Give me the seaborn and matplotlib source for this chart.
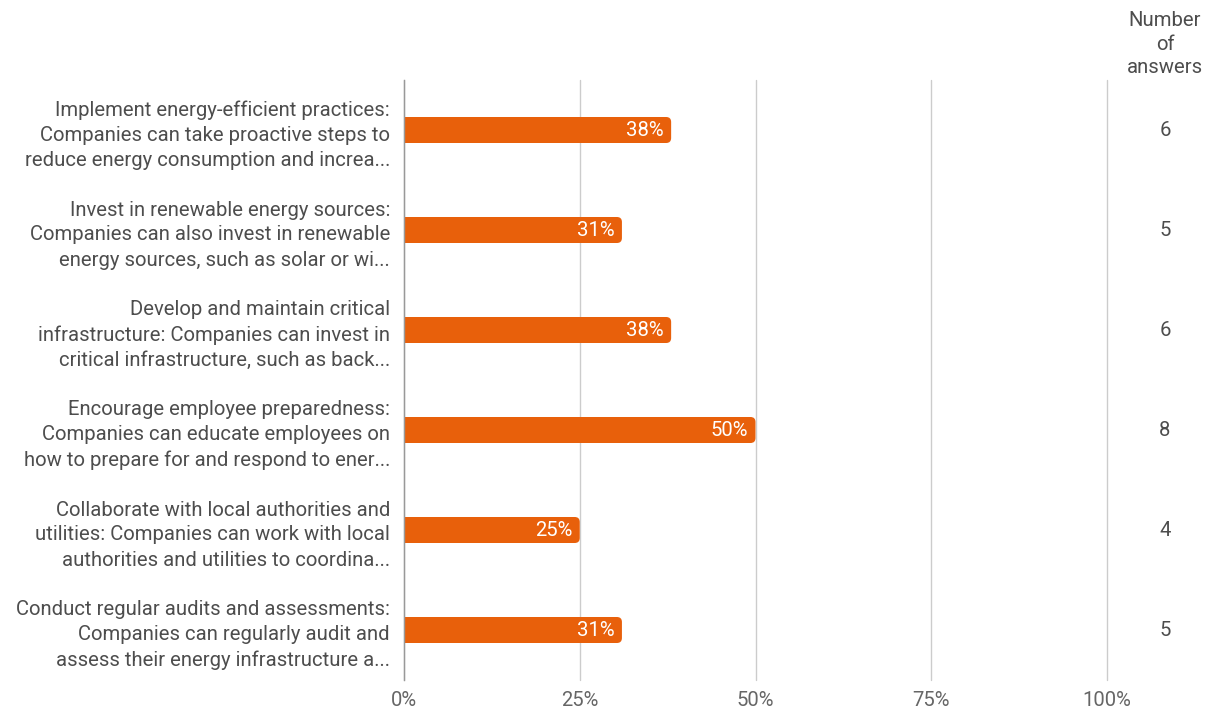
import matplotlib
matplotlib.use("Agg")
import matplotlib.pyplot as plt
import seaborn as sns
import pandas as pd
from matplotlib.patches import FancyBboxPatch

categories = [
    "Implement energy-efficient practices:\nCompanies can take proactive steps to\nreduce energy consumption and increa...",
    "Invest in renewable energy sources:\nCompanies can also invest in renewable\nenergy sources, such as solar or wi...",
    "Develop and maintain critical\ninfrastructure: Companies can invest in\ncritical infrastructure, such as back...",
    "Encourage employee preparedness:\nCompanies can educate employees on\nhow to prepare for and respond to ener...",
    "Collaborate with local authorities and\nutilities: Companies can work with local\nauthorities and utilities to coordina...",
    "Conduct regular audits and assessments:\nCompanies can regularly audit and\nassess their energy infrastructure a...",
]
answers = [6, 5, 6, 8, 4, 5]
shares = [38, 31, 38, 50, 25, 31]
x_ticks = [0, 25, 50, 75, 100]
x_tick_labels = ["0%", "25%", "50%", "75%", "100%"]

df = pd.DataFrame({"option": categories, "share": shares, "answers": answers})

sns.set_theme(style="white")
plt.rcParams["font.family"] = ["Roboto", "DejaVu Sans"]

BAR = "#E8600B"
TEXT = "#4d4d4d"
TICK = "#666666"
FS = 14.6

fig = plt.figure(figsize=(12.14, 7.11), dpi=100)
ax = fig.add_axes([404 / 1214, 1 - 680 / 711, (1107 - 404) / 1214, 600 / 711])

sns.barplot(data=df, x="share", y="option", color=BAR, orient="h",
            width=0.26, saturation=1, ax=ax, zorder=3)

ax.set_xlim(0, 100)
ax.set_ylim(len(categories) - 0.5, -0.5)

# rounded right ends on the bars
r_x = 5 / 7.03
aspect = (1 / 100) / (1 / 7.03)
for p in list(ax.patches):
    x0, y0, w, h = p.get_x(), p.get_y(), p.get_width(), p.get_height()
    rounded = FancyBboxPatch((x0, y0), w, h,
                             boxstyle=f"round,pad=0,rounding_size={r_x}",
                             mutation_aspect=aspect, facecolor=BAR,
                             edgecolor="none", zorder=3)
    ax.add_patch(rounded)
    p.set_width(max(w - r_x, 0))
    p.set_edgecolor("none")

for i, s in enumerate(shares):
    ax.text(s - 1.1, i, f"{s}%", ha="right", va="center",
            color="white", fontsize=FS, zorder=4)

ax.set_xticks(x_ticks)
ax.set_xticklabels(x_tick_labels)
ax.grid(axis="x", color="#CCCCCC", linewidth=1, zorder=0)
for gl in ax.get_xgridlines():
    gl.set_clip_on(False)
ax.grid(axis="y", visible=False)
for side in ["top", "right", "bottom"]:
    ax.spines[side].set_visible(False)
ax.spines["left"].set_color("#999999")
ax.spines["left"].set_linewidth(1)
ax.spines["left"].set_zorder(5)
ax.tick_params(axis="x", length=0, pad=8, labelsize=FS, labelcolor=TICK)
ax.tick_params(axis="y", length=0, pad=10, labelsize=FS, labelcolor=TEXT)
for lbl in ax.get_yticklabels():
    lbl.set_horizontalalignment("right")
    lbl.set_multialignment("right")
    lbl.set_linespacing(1.4)
ax.set_xlabel("")
ax.set_ylabel("")

# answer counts column
col_x = 1165 / 1214
fig.text(col_x, 1 - 44 / 711, "Number\nof\nanswers", ha="center", va="center",
         fontsize=FS, color=TEXT, linespacing=1.33)
for i, a in enumerate(answers):
    y_pix = 130 + 100 * i
    fig.text(col_x, 1 - y_pix / 711, str(a), ha="center", va="center",
             fontsize=FS, color=TEXT)

fig.savefig("out.png", dpi=100)
